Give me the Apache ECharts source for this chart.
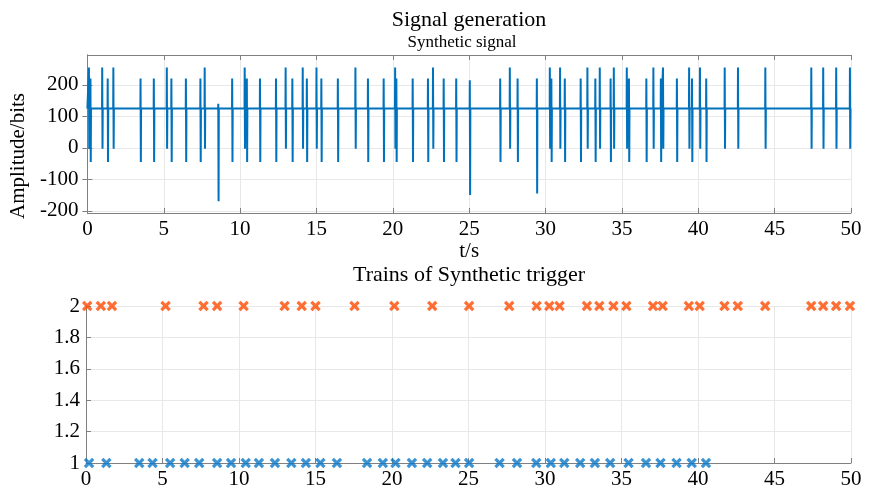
<!DOCTYPE html>
<html>
<head>
<meta charset="utf-8">
<script src="https://cdn.jsdelivr.net/npm/echarts@6/dist/echarts.min.js"></script>
<style>html,body{margin:0;padding:0;background:#fff}#c{width:871px;height:490px}</style>
</head>
<body>
<div id="c"></div>
<script>
// ---- data ----
const xTicks = [0, 5, 10, 15, 20, 25, 30, 35, 40, 45, 50];
const ampTicks = [-200, -100, 0, 100, 200];
const trigTicks = [1, 1.2, 1.4, 1.6, 1.8, 2];
const baseline = 125;
// synthetic signal spikes: time (s), peak value, trough value
const sigT  = [0.1, 0.2, 0.97, 1.33, 1.7, 3.48, 4.35, 5.2, 5.5, 6.45, 7.4, 7.68, 8.57, 9.48, 10.3, 10.44, 11.3, 12.35, 12.98, 13.42, 14.1, 14.37, 15.0, 15.32, 16.4, 17.55, 18.37, 19.4, 20.15, 20.23, 21.3, 22.3, 22.63, 23.33, 24.15, 25.04, 27.03, 27.66, 28.17, 29.43, 30.28, 30.38, 30.95, 31.26, 32.3, 32.74, 33.26, 33.55, 34.26, 34.47, 35.32, 35.46, 36.6, 37.06, 37.55, 37.69, 38.6, 39.4, 39.59, 40.11, 40.52, 41.73, 42.6, 44.39, 47.4, 48.18, 49.03, 49.93];
const sigHi = [255, 220, 255, 220, 255, 220, 220, 255, 220, 220, 220, 255, 140, 220, 255, 220, 220, 220, 255, 220, 255, 220, 255, 220, 220, 255, 220, 220, 255, 220, 220, 220, 255, 220, 220, 215, 220, 255, 220, 220, 255, 220, 255, 220, 220, 255, 220, 255, 220, 255, 255, 220, 220, 255, 220, 255, 220, 255, 220, 255, 220, 255, 255, 255, 255, 255, 255, 255];
const sigLo = [-3, -45, -3, -45, -3, -45, -45, -3, -45, -45, -45, -3, -170, -45, -3, -45, -45, -45, -3, -45, -3, -45, -3, -45, -45, -3, -45, -45, -3, -45, -45, -45, -3, -45, -45, -150, -45, -3, -45, -145, -3, -45, -3, -45, -45, -3, -45, -3, -45, -3, -3, -45, -45, -3, -45, -3, -45, -3, -45, -3, -45, -3, -3, -3, -3, -3, -3, -3];
// trigger trains
const trig2 = [0.08, 0.97, 1.7, 5.2, 7.68, 8.57, 10.3, 12.98, 14.1, 15.0, 17.55, 20.15, 22.63, 25.04, 27.66, 29.45, 30.28, 30.95, 32.74, 33.55, 34.47, 35.32, 37.06, 37.69, 39.4, 40.11, 41.73, 42.6, 44.39, 47.4, 48.18, 49.03, 49.93];
const trig1 = [0.2, 1.33, 3.48, 4.35, 5.5, 6.45, 7.4, 8.57, 9.48, 10.44, 11.3, 12.35, 13.42, 14.37, 15.32, 16.4, 18.37, 19.4, 20.23, 21.3, 22.3, 23.33, 24.15, 25.04, 27.03, 28.17, 29.43, 30.38, 31.26, 32.3, 33.26, 34.26, 35.46, 36.6, 37.55, 38.6, 39.59, 40.52];

// ---- build ----
const lineData = [[0, baseline]];
for (let i = 0; i < sigT.length; i++) {
  const t = sigT[i];
  lineData.push([t - 0.01, baseline], [t, sigHi[i]], [t + 0.02, sigLo[i]], [t + 0.035, baseline]);
}
lineData.push([50, baseline]);

const FONT = 'Liberation Serif';
const axisCol = '#808080';
const gridCol = '#e8e8e8';
const xShape = 'path://M0,2.2 L2.2,0 L5,2.8 L7.8,0 L10,2.2 L7.2,5 L10,7.8 L7.8,10 L5,7.2 L2.2,10 L0,7.8 L2.8,5 Z';

const baseX = (grid, show) => ({
  type: 'value', gridIndex: grid, min: 0, max: 50, interval: 5,
  axisLine: {show: true, onZero: false, lineStyle: {color: axisCol, width: 1}},
  axisTick: {show: true, inside: true, length: 5, lineStyle: {color: axisCol}},
  axisLabel: {show: show, color: '#000', fontFamily: FONT, fontSize: 21, margin: 6},
  splitLine: {show: show, lineStyle: {color: gridCol, width: 1}}
});

const chart = echarts.init(document.getElementById('c'), null, {renderer: 'canvas'});
chart.setOption({
  animation: false,
  backgroundColor: '#fff',
  title: [
    {text: 'Signal generation', left: 469, top: 9, textAlign: 'center', padding: 0,
     textStyle: {fontFamily: FONT, fontSize: 22, fontWeight: 'normal', color: '#000'}},
    {text: 'Synthetic signal', left: 462, top: 34, textAlign: 'center', padding: 0,
     textStyle: {fontFamily: FONT, fontSize: 17, fontWeight: 'normal', color: '#000'}},
    {text: 'Trains of Synthetic trigger', left: 469, top: 264, textAlign: 'center', padding: 0,
     textStyle: {fontFamily: FONT, fontSize: 22, fontWeight: 'normal', color: '#000'}}
  ],
  grid: [
    {left: 86, width: 765, top: 55, height: 158},
    {left: 86, width: 765, top: 306, height: 159}
  ],
  xAxis: [
    Object.assign(baseX(0, true), {name: 't/s', nameLocation: 'middle', nameGap: 24,
      nameTextStyle: {fontFamily: FONT, fontSize: 21, color: '#000'},
      axisLabel: {color: '#000', fontFamily: FONT, fontSize: 21, margin: 6,
        customValues: xTicks}}),
    Object.assign(baseX(0, false), {position: 'top'}),
    Object.assign(baseX(1, true), {
      axisLabel: {color: '#000', fontFamily: FONT, fontSize: 21, margin: 6, customValues: xTicks}})
  ],
  yAxis: [
    {type: 'value', gridIndex: 0, min: -207, max: 295,
     name: 'Amplitude/bits', nameLocation: 'middle', nameGap: 49, nameRotate: 90,
     nameTextStyle: {fontFamily: FONT, fontSize: 21, color: '#000', padding: [0, 44, 0, 0]},
     axisLine: {show: true, lineStyle: {color: axisCol}},
     axisTick: {show: true, inside: true, length: 5, customValues: ampTicks, lineStyle: {color: axisCol}},
     axisLabel: {color: '#000', fontFamily: FONT, fontSize: 21, margin: 9, customValues: ampTicks},
     splitLine: {show: true, lineStyle: {color: gridCol}}},
    {type: 'value', gridIndex: 0, min: -207, max: 295, position: 'right',
     axisLine: {show: true, lineStyle: {color: axisCol}},
     axisTick: {show: true, inside: true, length: 5, customValues: ampTicks, lineStyle: {color: axisCol}},
     axisLabel: {show: false}, splitLine: {show: false}},
    {type: 'value', gridIndex: 1, min: 1, max: 2, interval: 0.2,
     axisLine: {show: true, lineStyle: {color: axisCol}},
     axisTick: {show: true, inside: true, length: 5, lineStyle: {color: axisCol}},
     axisLabel: {color: '#000', fontFamily: FONT, fontSize: 21, margin: 6,
       formatter: v => String(Math.round(v * 10) / 10)},
     splitLine: {show: true, lineStyle: {color: gridCol}}}
  ],
  series: [
    {type: 'line', xAxisIndex: 0, yAxisIndex: 0, data: lineData, showSymbol: false,
     lineStyle: {color: '#0072BD', width: 2}, z: 5},
    {type: 'scatter', xAxisIndex: 2, yAxisIndex: 2, data: trig2.map(t => [t, 2]),
     symbol: xShape, symbolSize: 10.5, itemStyle: {color: '#FF4A00'}, clip: false, z: 5},
    {type: 'scatter', xAxisIndex: 2, yAxisIndex: 2, data: trig1.map(t => [t, 1]),
     symbol: xShape, symbolSize: 10.5, itemStyle: {color: '#0A78C8'}, clip: false, z: 5}
  ]
});
</script>
</body>
</html>
